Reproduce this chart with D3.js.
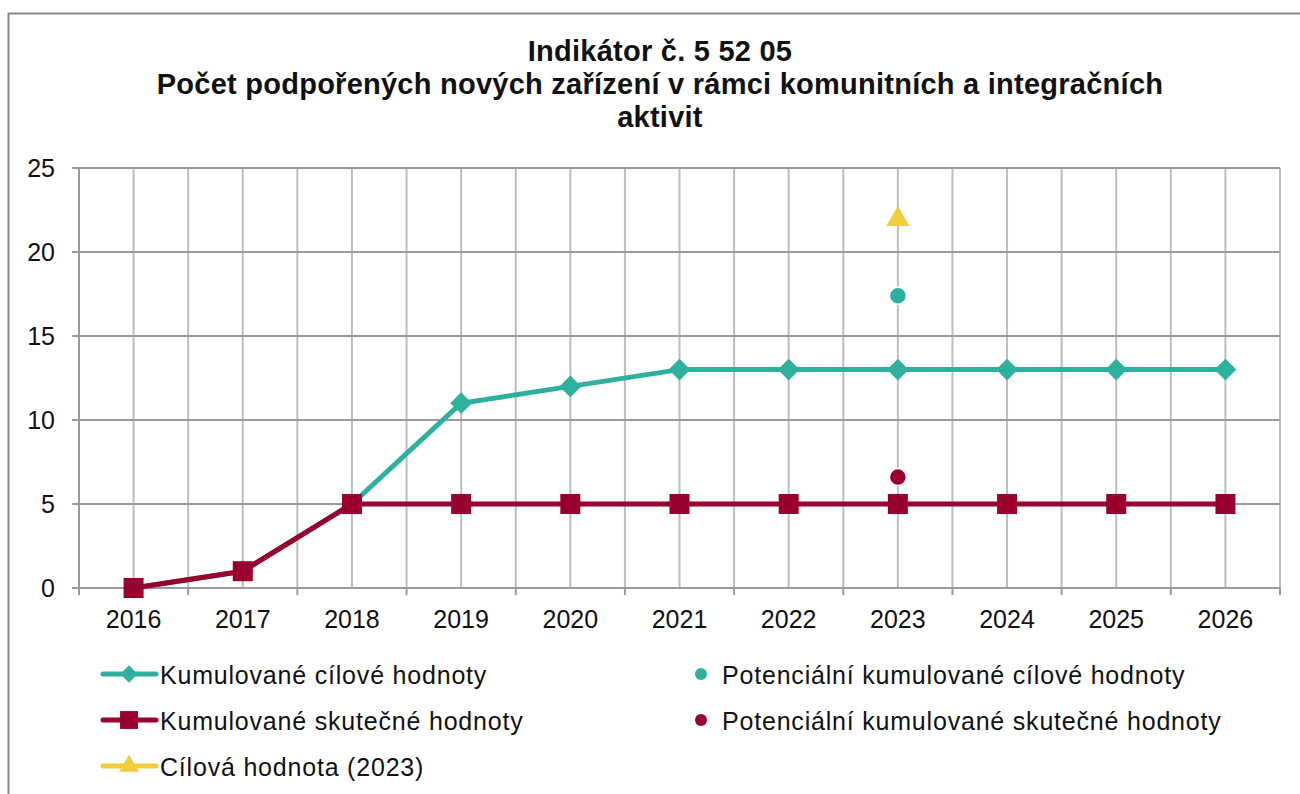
<!DOCTYPE html>
<html>
<head>
<meta charset="utf-8">
<script src="https://cdn.jsdelivr.net/npm/d3@7"></script>
<style>
  body { margin: 0; background: #fff; }
  text { font-family: "Liberation Sans", Arial, sans-serif; }
</style>
</head>
<body>
<svg id="chart" width="1300" height="794"></svg>
<script>
// data
var years = ["2016", "2017", "2018", "2019", "2020", "2021", "2022", "2023", "2024", "2025", "2026"];
var cumTarget = [0, 1, 5, 11, 12, 13, 13, 13, 13, 13, 13];
var cumActual = [0, 1, 5, 5, 5, 5, 5, 5, 5, 5, 5];
var potTarget = [{year: "2023", v: 17.4}];
var potActual = [{year: "2023", v: 6.6}];
var goal = [{year: "2023", v: 22}];
var yTicks = [0, 5, 10, 15, 20, 25];
var titleLines = ["Indikátor č. 5 52 05", "Počet podpořených nových zařízení v rámci komunitních a integračních", "aktivit"];

var TEAL = "#2eb09f", RED = "#99002e", YEL = "#f2cd3b";

var svg = d3.select("#chart");

// outer frame
svg.append("rect").attr("x", 8.5).attr("y", 13.5).attr("width", 1320).attr("height", 820)
  .attr("fill", "none").attr("stroke", "#888").attr("stroke-width", 2);

// title
svg.append("g").selectAll("text").data(titleLines).enter().append("text")
  .attr("x", 660).attr("y", (d, i) => 61 + i * 33)
  .attr("text-anchor", "middle").attr("font-size", 29).attr("font-weight", "bold")
  .attr("letter-spacing", 0.25).attr("fill", "#111").text(d => d);

var pLeft = 79, pRight = 1280, pTop = 168, pBottom = 588;
var x = d3.scaleBand().domain(years).range([pLeft, pRight]);
var y = d3.scaleLinear().domain([0, 25]).range([pBottom, pTop]);
var cx = d => x(d) + x.bandwidth() / 2;

var g = svg.append("g");

// vertical grid: category edges and centres
var vx = [];
years.forEach(yr => { vx.push(x(yr)); vx.push(cx(yr)); });
vx.push(pRight);
g.selectAll(".vg").data(vx.slice(1)).enter().append("line")
  .attr("x1", d => d).attr("x2", d => d).attr("y1", pTop).attr("y2", pBottom)
  .attr("stroke", "#bdbdbd").attr("stroke-width", 2);

// horizontal grid
g.selectAll(".hg").data(yTicks).enter().append("line")
  .attr("x1", pLeft - 7).attr("x2", pRight).attr("y1", d => y(d)).attr("y2", d => y(d))
  .attr("stroke", "#9a9a9a").attr("stroke-width", 2);

// y axis line
g.append("line").attr("x1", pLeft).attr("x2", pLeft).attr("y1", pTop).attr("y2", pBottom + 7)
  .attr("stroke", "#9a9a9a").attr("stroke-width", 2);

// x tick marks at category boundaries
var edges = years.map(yr => x(yr)).concat([pRight]);
g.selectAll(".xt").data(edges.slice(1)).enter().append("line")
  .attr("x1", d => d).attr("x2", d => d).attr("y1", pBottom).attr("y2", pBottom + 7)
  .attr("stroke", "#9a9a9a").attr("stroke-width", 2);

// y labels
g.selectAll(".yl").data(yTicks).enter().append("text")
  .attr("x", 55).attr("y", d => y(d) + 9).attr("text-anchor", "end")
  .attr("font-size", 25).attr("fill", "#111").text(d => d);

// x labels
g.selectAll(".xl").data(years).enter().append("text")
  .attr("x", d => cx(d)).attr("y", 628).attr("text-anchor", "middle")
  .attr("font-size", 25).attr("fill", "#111").text(d => d);

var line = d3.line().x((d, i) => cx(years[i])).y(d => y(d));
var diamond = d3.symbol().type(d3.symbolDiamond2).size(300);
var square = d3.symbol().type(d3.symbolSquare).size(400);
var tri = d3.symbol().type(d3.symbolTriangle).size(230);

// target line
g.append("path").datum(cumTarget).attr("d", line).attr("fill", "none")
  .attr("stroke", TEAL).attr("stroke-width", 5).attr("stroke-linejoin", "round");
g.selectAll(".dm").data(cumTarget).enter().append("path")
  .attr("transform", (d, i) => "translate(" + cx(years[i]) + "," + y(d) + ")")
  .attr("d", diamond).attr("fill", TEAL);

// actual line
g.append("path").datum(cumActual).attr("d", line).attr("fill", "none")
  .attr("stroke", RED).attr("stroke-width", 5).attr("stroke-linejoin", "round");
g.selectAll(".sq").data(cumActual).enter().append("path")
  .attr("transform", (d, i) => "translate(" + cx(years[i]) + "," + y(d) + ")")
  .attr("d", square).attr("fill", RED);

// potential points
g.selectAll(".pt").data(potTarget).enter().append("circle")
  .attr("cx", d => cx(d.year)).attr("cy", d => y(d.v)).attr("r", 8.5)
  .attr("fill", TEAL).attr("stroke", "#fff").attr("stroke-width", 1.5);
g.selectAll(".pa").data(potActual).enter().append("circle")
  .attr("cx", d => cx(d.year)).attr("cy", d => y(d.v)).attr("r", 8.5)
  .attr("fill", RED).attr("stroke", "#fff").attr("stroke-width", 1.5);
g.selectAll(".gl").data(goal).enter().append("path")
  .attr("transform", d => "translate(" + cx(d.year) + "," + (y(d.v) + 1) + ")")
  .attr("d", tri).attr("fill", YEL);

// legend
var legL = [
  {label: "Kumulované cílové hodnoty", color: TEAL, sym: d3.symbol().type(d3.symbolDiamond2).size(190)},
  {label: "Kumulované skutečné hodnoty", color: RED, sym: d3.symbol().type(d3.symbolSquare).size(320)},
  {label: "Cílová hodnota (2023)", color: YEL, sym: d3.symbol().type(d3.symbolTriangle).size(170)}
];
var legR = [
  {label: "Potenciální kumulované cílové hodnoty", color: TEAL},
  {label: "Potenciální kumulované skutečné hodnoty", color: RED}
];
var legY = [674, 720, 766];

var lg = svg.append("g");
var li = lg.selectAll(".ll").data(legL).enter().append("g")
  .attr("transform", (d, i) => "translate(0," + legY[i] + ")");
li.append("line").attr("x1", 103).attr("x2", 156).attr("y1", 0).attr("y2", 0)
  .attr("stroke", d => d.color).attr("stroke-width", 5).attr("stroke-linecap", "round");
li.append("path").attr("transform", "translate(129,0)").attr("d", d => d.sym()).attr("fill", d => d.color);
li.append("text").attr("x", 160).attr("y", 10).attr("font-size", 25).attr("letter-spacing", 0.8)
  .attr("fill", "#111").text(d => d.label);

var ri = lg.selectAll(".lr").data(legR).enter().append("g")
  .attr("transform", (d, i) => "translate(0," + legY[i] + ")");
ri.append("circle").attr("cx", 701).attr("cy", 0).attr("r", 6).attr("fill", d => d.color);
ri.append("text").attr("x", 722).attr("y", 10).attr("font-size", 25).attr("letter-spacing", 0.8)
  .attr("fill", "#111").text(d => d.label);
</script>
</body>
</html>
